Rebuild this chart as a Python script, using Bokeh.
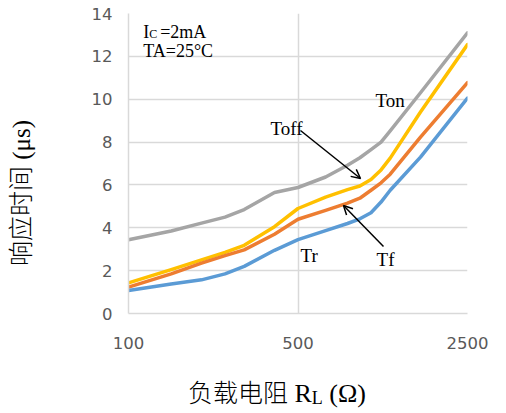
import math
from bokeh.plotting import figure
from bokeh.models import (Range1d, FixedTicker, NumeralTickFormatter, Label, Arrow, OpenHead, Div)
from bokeh.layouts import column, row
from bokeh.embed import file_html
from bokeh.resources import INLINE

# Load resistance (ohm) and response times (us)
r_ohm = [100, 150, 200, 250, 300, 400, 500, 650, 800, 900, 1000, 1100, 1200, 1600, 2500]
t_on = [3.44, 3.85, 4.22, 4.5, 4.85, 5.65, 5.88, 6.37, 6.92, 7.27, 7.65, 8.0, 8.52, 10.3, 13.1]
t_off = [1.43, 2.05, 2.5, 2.85, 3.18, 4.05, 4.9, 5.43, 5.78, 5.95, 6.25, 6.7, 7.25, 9.4, 12.55]
t_f = [1.23, 1.85, 2.35, 2.7, 2.97, 3.7, 4.4, 4.81, 5.15, 5.38, 5.75, 6.1, 6.5, 8.23, 10.77]
t_r = [1.07, 1.38, 1.57, 1.85, 2.2, 2.95, 3.45, 3.87, 4.2, 4.42, 4.7, 5.2, 5.75, 7.3, 10.05]

x_ticks = [100, 500, 2500]
y_ticks = [0, 2, 4, 6, 8, 10, 12, 14]

GRID = "#d9d9d9"
TICK_COLOR = "#595959"
SERIF = "Liberation Serif"
CJK = "Noto Sans CJK SC"
YT_W = 44  # width of the y-title column

p = figure(width=506 - YT_W, height=375, output_backend="svg", toolbar_location=None,
           x_axis_type="log", x_range=Range1d(100, 2500), y_range=Range1d(0, 14),
           min_border_left=128 - YT_W, min_border_right=39, min_border_top=13,
           min_border_bottom=62)
p.outline_line_color = None
p.background_fill_color = "white"
p.border_fill_color = "white"

p.xaxis.ticker = FixedTicker(ticks=x_ticks, minor_ticks=[])
p.yaxis.ticker = FixedTicker(ticks=y_ticks, minor_ticks=[])
p.xaxis.formatter = NumeralTickFormatter(format="0")
for ax in (p.xaxis, p.yaxis):
    ax.axis_line_color = GRID
    ax.axis_line_width = 1.5
    ax.major_tick_line_color = None
    ax.minor_tick_line_color = None
    ax.major_tick_out = 0
    ax.major_tick_in = 0
    ax.minor_tick_out = 0
    ax.minor_tick_in = 0
    ax.major_label_text_font = "DejaVu Sans"
    ax.major_label_text_font_size = "16.5px"
    ax.major_label_text_color = TICK_COLOR
p.yaxis.major_label_standoff = 16
p.xaxis.major_label_standoff = 23

p.xgrid.grid_line_color = GRID
p.ygrid.grid_line_color = GRID
p.xgrid.grid_line_width = 1.5
p.ygrid.grid_line_width = 1.5

series = [(t_on, "#A5A5A5"), (t_off, "#FFC000"), (t_f, "#ED7D31"), (t_r, "#5B9BD5")]
for ys, col in series:
    p.line(r_ohm, ys, line_color=col, line_width=3.5, line_cap="round", line_join="round")

def lab(text, x, y, size="18px", xo=0, yo=0, font=SERIF):
    p.add_layout(Label(x=x, y=y, x_offset=xo, y_offset=yo,
                       text=text, text_font=font, text_font_size=size,
                       text_color="black", text_baseline="alphabetic"))

# conditions block
lab("I", 115, 13.16)
lab("C", 115, 13.16, size="12px", xo=6, yo=-2)
lab("=2mA", 115, 13.16, xo=17)
lab("TA=25°C", 115, 12.23)

# series labels
lab("Ton", 1043, 9.94, size="19px")
lab("Toff", 385, 8.63, size="19px")
lab("Tr", 512, 2.71, size="19px")
lab("Tf", 1054, 2.52, size="19px")

p.add_layout(Arrow(end=OpenHead(size=9, line_width=1.5, line_color="black"),
                   x_start=512, y_start=8.54, x_end=905, y_end=6.3,
                   line_width=1.5, line_color="black"))
p.add_layout(Arrow(end=OpenHead(size=9, line_width=1.5, line_color="black"),
                   x_start=1126, y_start=3.13, x_end=770, y_end=5.04,
                   line_width=1.5, line_color="black"))

# y-axis title (rotated, reads bottom to top)
y_title = Div(
    text=(f'<div style="width:{YT_W}px;height:386px;display:flex;align-items:center;'
          'justify-content:center;">'
          '<span style="writing-mode:vertical-rl;text-orientation:sideways;'
          'transform:rotate(180deg);white-space:nowrap;">'
          f'<span style="font-family:\'{CJK}\';font-size:25px;font-weight:300;">响应时间</span>'
          f'<span style="font-family:\'{SERIF}\';font-size:25px;"> (μs)</span></span></div>'),
    width=YT_W, height=413, margin=(0, 0, 0, 0),
    styles={"color": "black", "line-height": "30px"})

# x-axis title with subscript
x_title = Div(
    text=(f'<span style="font-family:\'{CJK}\';font-size:25px;font-weight:300;">负载电阻</span>'
          f'<span style="font-family:\'{SERIF}\';font-size:26px;"> R</span>'
          f'<span style="font-family:\'{SERIF}\';font-size:18px;position:relative;top:2px;">L</span>'
          f'<span style="font-family:\'{SERIF}\';font-size:26px;"> (Ω)</span>'),
    width=506 - YT_W, height=38, margin=(0, 0, 0, 0),
    styles={"font-size": "26px", "line-height": "26px", "padding-left": f"{188 - YT_W}px",
            "padding-top": "3px", "color": "black", "white-space": "nowrap"})

layout = row(y_title, column(p, x_title, spacing=0), spacing=0)
open("out.html", "w").write(file_html(layout, INLINE))
